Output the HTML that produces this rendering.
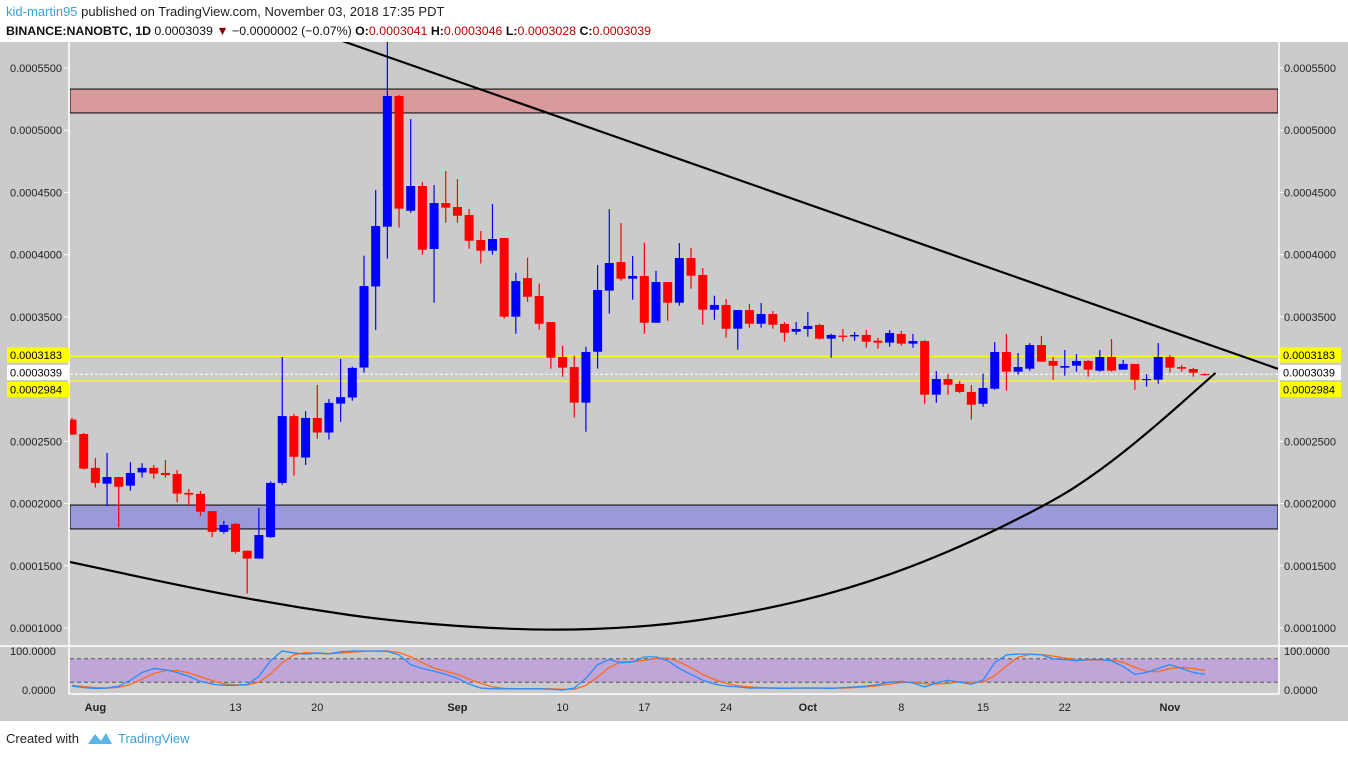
<!DOCTYPE html>
<html><head><meta charset="utf-8">
<style>
body{margin:0;background:#fff;width:1348px;height:756px;overflow:hidden;font-family:"Liberation Sans",Arial,sans-serif}
svg text{font-family:"Liberation Sans",Arial,sans-serif}
</style></head>
<body>
<svg id="chart" width="1348" height="756" viewBox="0 0 1348 756" xmlns="http://www.w3.org/2000/svg">
<rect x="0" y="0" width="1348" height="756" fill="#ffffff"/>
<text x="6" y="16" font-size="13" fill="#222"><tspan fill="#3aa0d8">kid-martin95</tspan> published on TradingView.com, November 03, 2018 17:35 PDT</text>
<text x="6" y="35" font-size="12.4" fill="#111" textLength="645" lengthAdjust="spacingAndGlyphs"><tspan font-weight="bold">BINANCE:NANOBTC, 1D</tspan> 0.0003039 <tspan fill="#8b0000">▼</tspan> −0.0000002 (−0.07%) <tspan font-weight="bold">O:</tspan><tspan fill="#b00">0.0003041</tspan> <tspan font-weight="bold">H:</tspan><tspan fill="#b00">0.0003046</tspan> <tspan font-weight="bold">L:</tspan><tspan fill="#b00">0.0003028</tspan> <tspan font-weight="bold">C:</tspan><tspan fill="#b00">0.0003039</tspan></text>
<rect x="0" y="42" width="1348" height="679" fill="#cbcbcb"/>
<g id="main"></g>
<text x="6" y="743" font-size="13" fill="#222">Created with</text>
<g><path d="M88 744 L95 734 L101 741 L106 733 L112 744 Z" fill="#5ab4e6"/></g>
<text x="118" y="743" font-size="13" fill="#3aa0d8">TradingView</text>
</svg>
<script>
const opens  = [2675,2559,2287,2160,2213,2144,2250,2287,2246,2238,2086,2078,1939,1773,1837,1621,1558,1730,2166,2703,2370,2688,2571,2803,2852,3093,3745,4225,5275,4353,4552,4046,4415,4383,4319,4118,4032,4134,3502,3812,3668,3459,3178,3097,2811,3220,3711,3941,3807,3829,3453,3780,3614,3973,3837,3558,3596,3405,3555,3445,3523,3443,3381,3403,3435,3325,3349,3343,3355,3309,3293,3363,3285,3306,2875,3001,2961,2897,2802,2923,3218,3060,3084,3274,3146,3092,3108,3146,3068,3178,3076,3122,2995,2995,3178,3097,3081,3041];
const highs  = [2690,2568,2367,2407,2213,2333,2324,2310,2350,2270,2118,2101,1939,1860,1845,1621,1965,2178,3177,2720,2743,2953,2841,3162,3099,3992,4520,5709,5283,5090,4584,4560,4672,4608,4367,4190,4407,4134,3855,3976,3767,3459,3269,3188,3260,3917,4366,4255,3989,4096,3871,3780,4094,4054,3893,3670,3644,3555,3604,3612,3547,3459,3459,3539,3445,3365,3403,3379,3395,3333,3395,3387,3363,3314,3065,3041,2985,2953,3044,3298,3363,3210,3290,3347,3178,3234,3202,3154,3234,3322,3154,3122,3041,3290,3194,3113,3089,3046];
const lows   = [2550,2273,2129,1980,1808,2103,2209,2200,2209,2009,1980,1902,1730,1759,1598,1276,1558,1725,2152,2224,2310,2522,2514,2657,2827,3053,3395,3968,4217,4337,4000,3614,4257,4257,4048,3928,4000,3486,3365,3622,3397,3084,3019,2690,2577,3084,3526,3791,3638,3365,3453,3469,3590,3727,3437,3477,3333,3236,3413,3413,3405,3301,3357,3341,3317,3172,3301,3309,3252,3244,3260,3269,3252,2802,2810,2875,2888,2674,2778,2915,2907,3036,3068,3140,2995,3028,3060,3020,3060,3060,3076,2915,2939,2963,3052,3060,3020,3028];
const closes = [2554,2281,2166,2213,2135,2246,2287,2241,2229,2080,2072,1934,1773,1828,1612,1558,1747,2166,2703,2376,2688,2571,2809,2855,3090,3748,4230,5275,4370,4552,4040,4415,4378,4313,4112,4032,4126,3502,3788,3662,3445,3172,3092,2811,3218,3716,3933,3807,3829,3453,3780,3614,3973,3831,3558,3596,3405,3555,3445,3523,3437,3373,3403,3427,3325,3355,3343,3355,3301,3293,3371,3285,3306,2875,3001,2955,2897,2794,2929,3218,3060,3097,3274,3140,3108,3105,3146,3076,3178,3068,3122,2995,3001,3178,3092,3084,3052,3039];
const stochK = [10,6,4,5,10,25,45,55,52,45,35,22,15,12,12,14,35,75,100,95,92,95,93,98,100,100,100,99,90,65,55,48,40,30,15,5,3,3,3,3,3,2,0,5,30,65,78,70,72,85,85,75,55,40,25,15,10,8,5,5,5,4,5,5,5,4,6,8,10,14,20,22,18,8,18,25,20,15,25,70,90,92,92,90,80,78,75,78,78,75,60,40,45,55,65,55,45,40];
const stochD = [12,9,6,5,7,14,28,42,50,50,44,34,24,16,13,13,20,41,70,90,96,94,93,95,97,99,100,100,96,85,70,56,48,40,28,17,8,4,3,3,3,3,2,2,12,33,58,72,73,76,81,82,72,57,40,27,17,11,8,6,5,5,5,5,5,5,5,6,8,11,15,19,20,16,15,17,21,20,20,37,62,84,91,91,87,82,78,77,77,77,71,58,48,47,55,58,55,50];
const priceTicks = [5500,5000,4500,4000,3500,2500,2000,1500,1000];
const dateLabels = ["Aug","13","20","Sep","10","17","24","Oct","8","15","22","Nov"];
const dateLabelIdx = [2,14,21,33,42,49,56,63,71,78,85,94];
const resistanceZone = [5331,5139];
const supportZone = [1988,1796];
const levelHigh = 3183, levelLast = 3039, levelLow = 2984;
const trendIdx = [23.4,103.3], trendPrice = [5709,3081];
const curveIdx = [-0.2,11,19.5,28,39.6,49.5,58,66.6,75,83.8,88,92.2,97.9];
const curvePrice = [1531,1306,1161,1048,976,1008,1121,1314,1603,2005,2262,2576,3050];

const NS='http://www.w3.org/2000/svg';
const g=document.getElementById('main');
const PL=70, PR=1278, PT=42, PB=645;
function xI(i){return 72+i*11.68;}
function yP(p){return 628-(p-1000)/8.036;}
function yS(v){return 690-v*0.39;}
function fmt(p){return '0.000'+String(Math.round(p)).padStart(4,'0');}
function mk(tag,attrs,parent){const e=document.createElementNS(NS,tag);for(const k in attrs)e.setAttribute(k,attrs[k]);(parent||g).appendChild(e);return e;}

const defs=mk('defs',{});
const cp=mk('clipPath',{id:'pc'},defs);mk('rect',{x:PL,y:PT,width:PR-PL,height:PB-PT},cp);
const cs=mk('clipPath',{id:'sc'},defs);mk('rect',{x:PL,y:647,width:PR-PL,height:46},cs);

let e;
e=mk('line',{x1:69,y1:PT,x2:69,y2:694,stroke:'#fff','stroke-width':1.5});


e=mk('line',{x1:1279,y1:PT,x2:1279,y2:694,stroke:'#fff','stroke-width':1.5});


e=mk('line',{x1:0,y1:646,x2:1348,y2:646,stroke:'#fff','stroke-width':1.5});


e=mk('line',{x1:69,y1:694,x2:1279,y2:694,stroke:'#fff','stroke-width':1.5});



const pg=mk('g',{'clip-path':'url(#pc)'});
e=mk('rect',{x:PL,y:yP(resistanceZone[0]),width:PR-PL,height:yP(resistanceZone[1])-yP(resistanceZone[0]),fill:'#d89a9a',stroke:'#000','stroke-width':1},pg);


e=mk('rect',{x:PL,y:yP(supportZone[0]),width:PR-PL,height:yP(supportZone[1])-yP(supportZone[0]),fill:'#9a9ad8',stroke:'#000','stroke-width':1},pg);


e=mk('line',{x1:PL,x2:PR,y1:yP(levelHigh),y2:yP(levelHigh),stroke:'#ffff00','stroke-width':1.3},pg);


e=mk('line',{x1:PL,x2:PR,y1:yP(levelLow),y2:yP(levelLow),stroke:'#ffff00','stroke-width':1.3},pg);


e=mk('line',{x1:PL,x2:PR,y1:yP(levelLast),y2:yP(levelLast),stroke:'#fff','stroke-width':1,'stroke-dasharray':'3,2'},pg);



closes.forEach((c,i)=>{
  const o=opens[i],h=highs[i],l=lows[i];
  const col=c>=o?'#0000ff':'#ff0000';
  const x=xI(i);
  const cg=mk('g',{},pg);
  
  
  mk('line',{x1:x,x2:x,y1:yP(h),y2:yP(l),stroke:col,'stroke-width':1.2},cg);
  const t=yP(Math.max(o,c)),b=yP(Math.min(o,c));
  mk('rect',{x:x-4.5,y:t,width:9,height:Math.max(b-t,1.2),fill:col},cg);
});

function ext(x0,p0,x1,p1,xa){return p0+(p1-p0)*(xa-x0)/(x1-x0);}
const ia=(PL-72)/11.68-1, ib=(PR-72)/11.68;
e=mk('line',{x1:xI(ia),y1:yP(ext(trendIdx[0],trendPrice[0],trendIdx[1],trendPrice[1],ia)),x2:xI(ib),y2:yP(ext(trendIdx[0],trendPrice[0],trendIdx[1],trendPrice[1],ib)),stroke:'#000','stroke-width':2.2},pg);


let d='';
for(let k=0;k<curveIdx.length;k++){
  const x=xI(curveIdx[k]),y=yP(curvePrice[k]);
  if(k===0)d+='M'+x+' '+y;
  else{const px=xI(curveIdx[k-1]),py=yP(curvePrice[k-1]);d+=' Q'+px+' '+py+' '+((px+x)/2)+' '+((py+y)/2);}
}
d+=' L'+xI(curveIdx[curveIdx.length-1])+' '+yP(curvePrice[curvePrice.length-1]);
e=mk('path',{d:d,fill:'none',stroke:'#000','stroke-width':2.2},pg);



priceTicks.forEach(p=>{
  const y=yP(p);
  e=mk('text',{x:10,y:y+4,'font-size':11,fill:'#222'});
  e.textContent=fmt(p);
  
  
  e=mk('text',{x:1284,y:y+4,'font-size':11,fill:'#222'});
  e.textContent=fmt(p);
  
  
  mk('line',{x1:64,x2:69,y1:y,y2:y,stroke:'#fff'});
  mk('line',{x1:1279,x2:1284,y1:y,y2:y,stroke:'#fff'});
});
const lv=[[levelHigh,'#ffff00',355,'high'],[levelLast,'#ffffff',372.5,'last'],[levelLow,'#ffff00',389.5,'low']];
lv.forEach(a=>{
  [[7,'left'],[1280,'right']].forEach(s=>{
    e=mk('rect',{x:s[0],y:a[2]-7.5,width:s[1]==='left'?62:61,height:15,fill:a[1]});
    
    
    e=mk('text',{x:s[0]+3,y:a[2]+4,'font-size':11,fill:'#000'});
    e.textContent=fmt(a[0]);
    
    
  });
});

const sg=mk('g',{'clip-path':'url(#sc)'});
e=mk('rect',{x:PL,y:yS(80),width:PR-PL,height:yS(20)-yS(80),fill:'#c0a5d8'},sg);


[80,20].forEach(v=>{mk('line',{x1:PL,x2:PR,y1:yS(v),y2:yS(v),stroke:'#555','stroke-dasharray':'4,3'},sg);});
function poly(arr,col,name){
  const pts=arr.map((v,i)=>xI(i)+','+yS(v)).join(' ');
  const p=mk('polyline',{points:pts,fill:'none',stroke:col,'stroke-width':1.3},sg);
  
  
}
poly(stochD,'#ff6a1a','stoch-d-line');
poly(stochK,'#2a8cff','stoch-k-line');
[[100,'100.0000'],[0,'0.0000']].forEach(a=>{
  e=mk('text',{x:a[0]?10:22,y:yS(a[0])+4,'font-size':11,fill:'#222'});
  e.textContent=a[1];
  
  
  e=mk('text',{x:1284,y:yS(a[0])+4,'font-size':11,fill:'#222'});
  e.textContent=a[1];
  
  
});

dateLabels.forEach((t,k)=>{
  const bold=isNaN(+t);
  e=mk('text',{x:xI(dateLabelIdx[k]),y:711,'font-size':11,'text-anchor':'middle',fill:'#222','font-weight':bold?'bold':'normal'});
  e.textContent=t;
  
  
});
</script>
</body></html>
